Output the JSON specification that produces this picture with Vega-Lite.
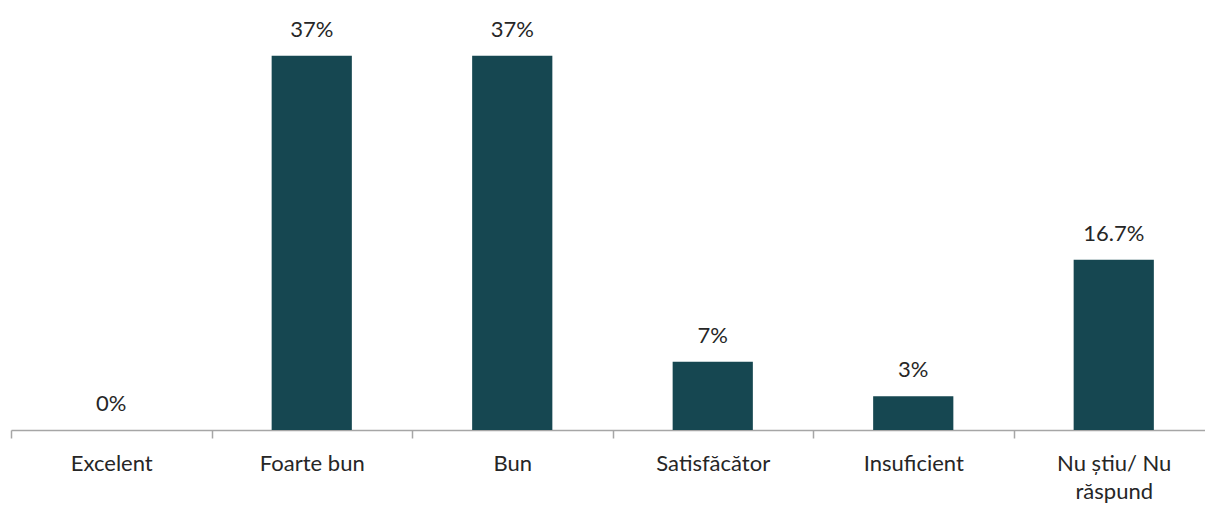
{
  "$schema": "https://vega.github.io/schema/vega-lite/v6.json",
  "width": 1203,
  "height": 418,
  "autosize": {"type": "none"},
  "padding": {"left": 11, "top": 12, "right": 0, "bottom": 80},
  "background": "white",
  "config": {"view": {"stroke": null}, "font": "Lato"},
  "data": {
    "values": [
      {"cat": "Excelent", "value": 0, "label": "0%"},
      {"cat": "Foarte bun", "value": 36.7, "label": "37%"},
      {"cat": "Bun", "value": 36.7, "label": "37%"},
      {"cat": "Satisfăcător", "value": 6.7, "label": "7%"},
      {"cat": "Insuficient", "value": 3.3, "label": "3%"},
      {"cat": "Nu știu/ Nu răspund", "value": 16.7, "label": "16.7%"}
    ]
  },
  "encoding": {
    "x": {
      "field": "cat",
      "type": "nominal",
      "sort": null,
      "scale": {"paddingInner": 0, "paddingOuter": 0},
      "axis": {
        "title": null,
        "labelAngle": 0,
        "labelFontSize": 22,
        "labelColor": "#262626",
        "labelPadding": 15,
        "labelLineHeight": 28,
        "labelFont": "Lato",
        "domainColor": "#a6a6a6",
        "domainWidth": 1.5,
        "tickColor": "#a6a6a6",
        "tickWidth": 1.5,
        "tickSize": 8,
        "tickBand": "extent",
        "labelExpr": "datum.label == 'Nu știu/ Nu răspund' ? ['Nu știu/ Nu', 'răspund'] : datum.label"
      }
    },
    "y": {
      "field": "value",
      "type": "quantitative",
      "scale": {"domain": [0, 41], "nice": false},
      "axis": null
    }
  },
  "layer": [
    {"mark": {"type": "bar", "color": "#164751", "width": {"band": 0.4}}},
    {
      "mark": {"type": "text", "baseline": "alphabetic", "dy": -19, "fontSize": 22, "color": "#262626", "font": "Lato"},
      "encoding": {"text": {"field": "label"}}
    }
  ]
}
